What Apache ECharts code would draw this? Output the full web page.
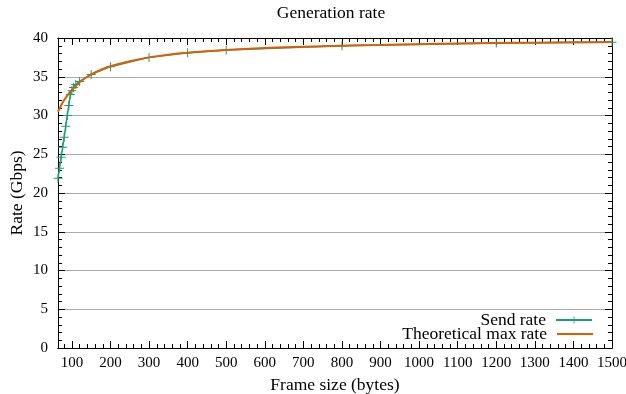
<!DOCTYPE html>
<html>
<head>
<meta charset="utf-8">
<script src="https://cdn.jsdelivr.net/npm/echarts@6/dist/echarts.min.js"></script>
<style>html,body{margin:0;padding:0;background:#fff;}#chart{width:626px;height:394px;}</style>
</head>
<body>
<div id="chart"></div>
<script>
// ---- data ----
const titleText = 'Generation rate';
const xName = 'Frame size (bytes)';
const yName = 'Rate (Gbps)';
const seriesNames = ['Send rate', 'Theoretical max rate'];

const sendX = [64, 68, 72, 76, 80, 84, 88, 92, 96, 100, 104, 110, 120, 150, 200, 300, 400, 500, 800, 1200, 1500];
const sendY = [21.9, 23.2, 24.6, 25.9, 27.2, 28.6, 30.0, 31.3, 32.7, 33.2, 33.6, 34.0, 34.4, 35.3, 36.3, 37.5, 38.1, 38.45, 39.0, 39.35, 39.45];

const theoX = [64, 70, 80, 90, 100, 110, 120, 140, 160, 180, 200, 250, 300, 350, 400, 500, 600, 700, 800, 900, 1000, 1100, 1200, 1300, 1400, 1500];
const theoY = [30.5, 31.1, 32.0, 32.7, 33.3, 33.8, 34.3, 35.0, 35.55, 36.0, 36.35, 37.0, 37.5, 37.85, 38.1, 38.45, 38.7, 38.88, 39.0, 39.1, 39.2, 39.28, 39.35, 39.4, 39.45, 39.48];

const xMin = 64, xMax = 1500;
const xTickLabels = [100, 200, 300, 400, 500, 600, 700, 800, 900, 1000, 1100, 1200, 1300, 1400, 1500];
const yMin = 0, yMax = 40, yStep = 5;

// ---- build ----
const FONT = 'Liberation Serif';
const TXT = 17.5;
const TICK = 15;
const GREEN = '#1b9e77';
const ORANGE = '#d95f02';
const xMinor = [];
for (let v = 80; v <= xMax; v += 20) xMinor.push(v);

const chart = echarts.init(document.getElementById('chart'), null, {renderer: 'canvas'});
const plus = 'path://M4,0h1v9h-1z M0,4h9v1h-9z';

function xAx(pos, ticks, len, labels, extra) {
  return Object.assign({
    type: 'value', position: pos, min: xMin, max: xMax,
    axisLine: {show: true, onZero: false, lineStyle: {color: '#000', width: 1}},
    axisTick: {show: true, inside: true, length: len, customValues: ticks, lineStyle: {color: '#000'}},
    axisLabel: labels ? {show: true, customValues: xTickLabels, formatter: v => String(v), color: '#000', fontFamily: FONT, fontSize: TICK, margin: 8} : {show: false},
    splitLine: {show: false}
  }, extra || {});
}
function yAx(pos, labels, extra) {
  return Object.assign({
    type: 'value', position: pos, min: yMin, max: yMax, interval: yStep,
    axisLine: {show: true, onZero: false, lineStyle: {color: '#000', width: 1}},
    axisTick: {show: true, inside: true, length: 7, lineStyle: {color: '#000'}},
    minorTick: {show: true, splitNumber: 5, length: 4, lineStyle: {color: '#000'}},
    axisLabel: labels ? {show: true, color: '#000', fontFamily: FONT, fontSize: TICK, margin: 10} : {show: false},
    splitLine: {show: labels, lineStyle: {color: '#aaaaaa', width: 1}}
  }, extra || {});
}

const option = {
  animation: false,
  backgroundColor: '#fff',
  title: {text: titleText, left: 326, textAlign: 'center', top: -1,
    textStyle: {fontFamily: FONT, fontSize: TXT, fontWeight: 'normal', color: '#000'}},
  grid: {left: 58, right: 14, top: 38, bottom: 46, containLabel: false, outerBoundsMode: 'none'},
  xAxis: [
    xAx('bottom', xTickLabels, 7, true, {name: xName, nameLocation: 'middle', nameGap: 28, nameMoveOverlap: false,
      nameTextStyle: {fontFamily: FONT, fontSize: TXT, color: '#000'}}),
    xAx('bottom', xMinor, 4, false),
    xAx('top', xTickLabels, 7, false),
    xAx('top', xMinor, 4, false)
  ],
  yAxis: [
    yAx('left', true, {name: yName, nameLocation: 'middle', nameGap: 32, nameRotate: 90, nameMoveOverlap: false,
      nameTextStyle: {fontFamily: FONT, fontSize: TXT, color: '#000'}}),
    yAx('right', false)
  ],
  legend: [
    {data: [seriesNames[0]], right: 33, top: 311, align: 'right', itemWidth: 36, itemHeight: 9, itemGap: 0, padding: 0,
      textStyle: {fontFamily: FONT, fontSize: TXT, color: '#000', padding: [0, 5, 0, 0]}},
    {data: [{name: seriesNames[1], icon: 'rect'}], right: 33, top: 325, align: 'right', itemWidth: 36, itemHeight: 2, itemGap: 0, padding: 0,
      textStyle: {fontFamily: FONT, fontSize: TXT, color: '#000', padding: [0, 5, 0, 0]}}
  ],
  series: [
    {name: seriesNames[1], type: 'line', xAxisIndex: 0, yAxisIndex: 0, smooth: 0.4, showSymbol: false, symbol: 'none',
      data: theoX.map((x, i) => [x, theoY[i]]), lineStyle: {color: ORANGE, width: 2}, itemStyle: {color: ORANGE}, z: 3},
    {name: seriesNames[0], type: 'line', xAxisIndex: 0, yAxisIndex: 0, symbol: plus, symbolSize: 9, showSymbol: true,
      data: sendX.map((x, i) => [x, sendY[i]]), lineStyle: {color: GREEN, width: 1.5}, itemStyle: {color: GREEN}, z: 2}
  ]
};
chart.setOption(option);
</script>
</body>
</html>
